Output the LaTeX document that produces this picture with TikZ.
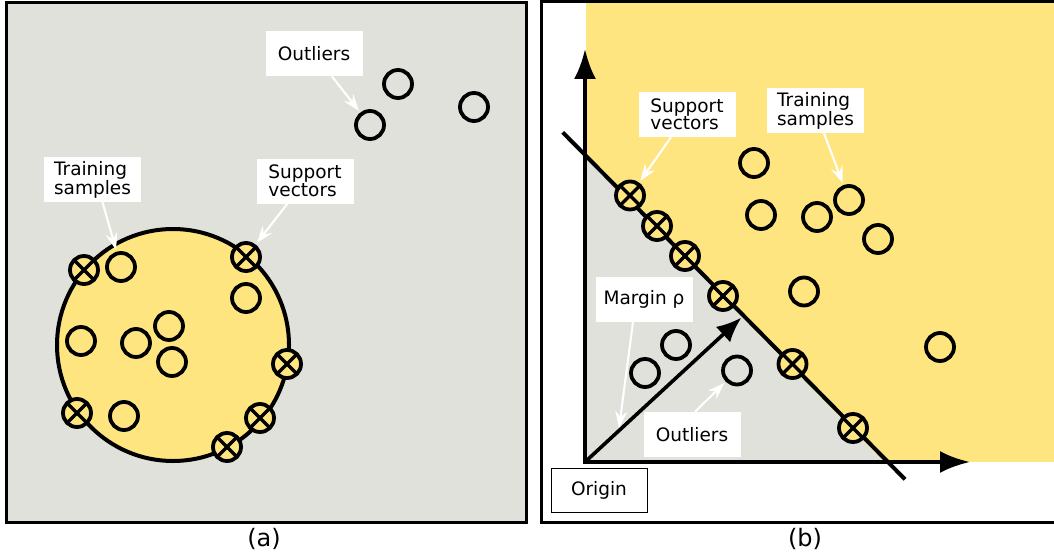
\documentclass[tikz,border=0pt]{standalone}
\usepackage{fontspec}
\setmainfont{DejaVu Sans}
\usetikzlibrary{arrows.meta,calc}
\definecolor{bgray}{RGB}{224,225,218}
\definecolor{byellow}{RGB}{255,229,128}
\begin{document}
\begin{tikzpicture}[x=1pt,y=-1pt,
  smp/.style={circle,draw=black,line width=3.8pt,minimum size=28pt,inner sep=0pt},
  sv/.style={smp,fill=byellow,path picture={
      \draw[line width=3.4pt] ($(path picture bounding box.center)+(-12,-12)$) -- ($(path picture bounding box.center)+(12,12)$);
      \draw[line width=3.4pt] ($(path picture bounding box.center)+(-12,12)$) -- ($(path picture bounding box.center)+(12,-12)$);}},
  lbl/.style={fill=white,inner sep=0pt,minimum width=97pt,minimum height=45pt,align=left,
      font=\fontsize{18.5}{17.5}\selectfont},
  warr/.style={draw=white,line width=2.1pt,-{Stealth[length=17pt,width=12pt,inset=6pt]},shorten >=2pt},
  captxt/.style={font=\fontsize{24}{28}\selectfont},
  ]
\useasboundingbox (0,0) rectangle (1054,559);

% ================= panel (a) =================
\draw[fill=bgray,line width=3pt] (6,3) rectangle (526,522);
\node[circle,draw,fill=byellow,line width=4pt,minimum size=232pt,inner sep=0pt] (ball) at (173,345) {};

\node[smp] (a1) at (121,267) {};
\node[smp] (a2) at (246,298) {};
\node[smp] (a3) at (81,341) {};
\node[smp] (a4) at (136,343) {};
\node[smp] (a5) at (169,326) {};
\node[smp] (a6) at (172,362) {};
\node[smp] (a7) at (124,416) {};

\node[sv] (s1) at (84,270) {};
\node[sv] (s2) at (246,257) {};
\node[sv] (s3) at (287,364) {};
\node[sv] (s4) at (77,413) {};
\node[sv] (s5) at (260,418) {};
\node[sv] (s6) at (227,447) {};

\node[smp] (oa1) at (398,84) {};
\node[smp] (oa2) at (370,125) {};
\node[smp] (oa3) at (474,107) {};

\node[lbl] (lOutA) at (314,53.5) {Outliers};
\node[lbl] (lTrA) at (92.5,179.5) {Training\\samples};
\node[lbl] (lSvA) at (305,181) {Support\\vectors};

\draw[warr] (lOutA) -- (oa2);
\draw[warr] ($(lTrA.south)+(10,0)$) -- (a1);
\draw[warr] (lSvA) -- (s2);

\node[captxt] (capa) at (264,539) {(a)};

% ================= panel (b) =================
\fill[white] (541,3) rectangle (1054,522);
\fill[byellow] (586,3) rectangle (1054,462);
\coordinate (O) at (585,462);
\coordinate (ytip) at (585,49);
\coordinate (xtip) at (970,462);
\coordinate (dl1) at (562.7,132.3);
\coordinate (dl2) at (905,479.3);
\fill[bgray] (585,156) -- (O) -- (884,462) -- cycle;
\draw[line width=3pt] (1060,2) -- (541,2) -- (541,522) -- (1060,522);

\draw[line width=4pt,line join=miter,{Latex[length=30pt,width=22pt]}-{Latex[length=30pt,width=22pt]}] (ytip) -- (O) -- (xtip);
\draw[line width=4pt] (dl1) -- (dl2);

\node[sv] (t1) at (630,195.5) {};
\node[sv] (t2) at (657,226) {};
\node[sv] (t3) at (685,256) {};
\node[sv] (t4) at (723,296) {};
\node[sv] (t5) at (792.5,364) {};
\node[sv] (t6) at (853,428) {};

\node[smp] (b1) at (754,163) {};
\node[smp] (b2) at (761,215) {};
\node[smp] (b3) at (817,217) {};
\node[smp] (b4) at (849,200) {};
\node[smp] (b5) at (878,239) {};
\node[smp] (b6) at (804,291.5) {};
\node[smp] (b7) at (940,347) {};
\node[smp] (ob1) at (676,345) {};
\node[smp] (ob2) at (645,373) {};
\node[smp] (ob3) at (737,370.5) {};

\coordinate (mtip) at (741.5,317.5);
\draw[line width=3.6pt,-{Latex[length=25pt,width=21pt]}] (O) -- (mtip);

\node[lbl] (lSvB) at (687,114.5) {Support\\vectors};
\node[lbl] (lTrB) at (815.5,110.5) {Training\\samples};
\node[lbl] (lMgB) at (644,299.5) {Margin ρ};
\node[lbl] (lOutB) at (692,434.5) {Outliers};
\node[lbl,draw=black,line width=1pt,minimum width=96pt,minimum height=44pt] (lOrig) at (599,490) {Origin};

\coordinate (mgend) at (619,428);
\draw[warr] (lSvB) -- (t1);
\draw[warr] (lTrB) -- (b4);
\draw[warr,shorten >=0pt] ($(lMgB.south)+(-11,0)$) -- (mgend);
\draw[warr] ($(lOutB.north)+(3,0)$) -- (ob3);

\node[captxt] (capb) at (805,539) {(b)};
\end{tikzpicture}
\end{document}
